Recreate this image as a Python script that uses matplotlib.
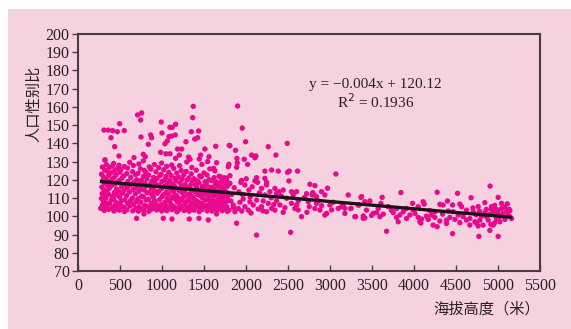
import numpy as np
import matplotlib.pyplot as plt
from matplotlib.patches import Rectangle

plt.rcParams['font.family'] = ['Liberation Serif', 'Noto Sans CJK SC', 'DejaVu Sans']

# regression shown on the chart
slope = -0.004
intercept = 120.12
r2 = 0.1936
fit_range = [280, 5150]

x_ticks = list(range(0, 5501, 500))
y_ticks = list(range(70, 201, 10))

# dense cloud, 280-1800 m
dense_pts = [
    (282, 104.5), (291, 106.2), (279, 109.8), (288, 112.4), (284, 116.0), (295, 119.5), (281, 123.1), (290, 127.0),
    (312, 103.2), (305, 108.1), (318, 111.0), (308, 114.6), (314, 118.2), (302, 121.7), (319, 125.4), (321, 130.9),
    (338, 105.0), (346, 107.3), (333, 110.2), (342, 113.5), (349, 117.0), (336, 120.6), (344, 124.8), (339, 128.3),
    (367, 103.8), (375, 106.9), (362, 112.1), (371, 115.3), (378, 119.0), (366, 122.5), (373, 126.9),
    (403, 104.6), (396, 108.8), (408, 110.9), (399, 116.8), (405, 120.3), (394, 123.9), (410, 127.6),
    (428, 102.9), (437, 105.9), (425, 109.4), (433, 113.0), (441, 117.7), (429, 121.1), (436, 125.0), (424, 129.0),
    (462, 104.1), (455, 107.5), (468, 111.6), (458, 114.9), (465, 118.5), (452, 122.7), (470, 126.2),
    (493, 103.4), (486, 106.4), (497, 110.5), (484, 113.9), (491, 119.6), (499, 124.2), (488, 128.0),
    (522, 105.4), (515, 108.3), (527, 112.7), (518, 116.3), (524, 120.9), (512, 125.7),
    (553, 102.6), (546, 104.9), (558, 109.0), (549, 114.2), (556, 117.6), (543, 122.1), (551, 127.3),
    (582, 103.6), (590, 107.0), (578, 111.3), (587, 115.6), (594, 119.2), (580, 123.4), (589, 126.5),
    (618, 105.7), (625, 108.6), (613, 113.3), (622, 117.3), (628, 121.4), (616, 129.6),
    (652, 103.0), (660, 106.6), (648, 110.0), (657, 114.8), (664, 118.8), (650, 124.5), (659, 127.9),
    (688, 104.3), (695, 108.0), (683, 112.4), (692, 116.1), (698, 120.0), (685, 122.9),
    (718, 102.8), (726, 105.2), (713, 109.6), (722, 113.7), (729, 117.9), (716, 123.6), (724, 128.7),
    (752, 104.0), (745, 107.8), (758, 111.1), (748, 115.0), (755, 119.8), (743, 126.1),
    (783, 103.3), (790, 106.0), (778, 110.7), (787, 114.4), (794, 118.0), (780, 121.9), (789, 125.2), (777, 130.4),
    (817, 105.5), (810, 108.9), (822, 112.9), (813, 116.6), (820, 120.5), (808, 124.0),
    (843, 102.7), (851, 104.7), (838, 109.3), (847, 113.1), (854, 117.4), (841, 122.6), (849, 127.1),
    (877, 103.9), (870, 107.2), (882, 111.8), (873, 115.4), (880, 119.3), (868, 125.9),
    (903, 105.1), (911, 108.4), (898, 110.4), (907, 114.1), (914, 118.6), (900, 121.3), (909, 128.4),
    (937, 103.5), (930, 106.8), (942, 112.6), (933, 116.9), (940, 120.7), (928, 124.4),
    (963, 104.8), (971, 109.1), (958, 113.6), (967, 117.1), (974, 122.3), (960, 126.7),
    (997, 102.9), (990, 106.3), (1002, 110.8), (993, 115.1), (1000, 119.1), (988, 123.0), (995, 129.2),
    (1023, 104.4), (1031, 107.6), (1018, 111.9), (1027, 116.4), (1034, 120.2), (1020, 125.5),
    (1057, 103.1), (1050, 105.8), (1062, 109.7), (1053, 113.4), (1060, 118.1), (1048, 121.8), (1055, 127.4),
    (1083, 104.9), (1091, 108.2), (1078, 112.2), (1087, 115.8), (1094, 119.7), (1080, 124.1),
    (1117, 103.7), (1110, 106.5), (1122, 110.3), (1113, 114.7), (1120, 117.8), (1108, 122.4), (1115, 128.1),
    (1143, 105.3), (1151, 109.5), (1138, 113.2), (1147, 116.7), (1154, 120.8), (1140, 126.3),
    (1177, 102.5), (1170, 104.2), (1182, 107.9), (1173, 111.4), (1180, 115.2), (1168, 119.4), (1175, 123.7),
    (1203, 103.6), (1211, 106.1), (1198, 109.9), (1207, 114.0), (1214, 118.3), (1200, 121.5), (1209, 127.8),
    (1237, 105.0), (1230, 108.7), (1242, 112.8), (1233, 116.2), (1240, 120.4), (1228, 125.1),
    (1263, 103.2), (1271, 106.7), (1258, 110.6), (1267, 113.8), (1274, 117.5), (1260, 122.8),
    (1297, 104.5), (1290, 108.0), (1302, 111.7), (1293, 115.5), (1300, 119.9), (1288, 124.6), (1295, 129.8),
    (1323, 102.8), (1331, 105.6), (1318, 109.2), (1327, 112.3), (1334, 116.8), (1320, 121.0),
    (1357, 104.0), (1350, 107.4), (1362, 110.8), (1353, 114.5), (1360, 118.7), (1348, 123.3), (1355, 126.8),
    (1383, 103.4), (1391, 106.2), (1378, 109.8), (1387, 113.6), (1394, 117.2), (1380, 120.6),
    (1417, 105.2), (1410, 108.5), (1422, 112.0), (1413, 115.9), (1420, 119.5), (1408, 125.3),
    (1443, 102.6), (1451, 104.6), (1438, 107.7), (1447, 111.5), (1454, 114.3), (1440, 118.4), (1449, 122.2),
    (1477, 103.8), (1470, 106.9), (1482, 110.1), (1473, 113.1), (1480, 116.5), (1468, 121.6), (1475, 128.5),
    (1503, 105.4), (1511, 108.8), (1498, 112.5), (1507, 115.7), (1514, 119.0), (1500, 123.8),
    (1537, 103.0), (1530, 105.9), (1542, 109.3), (1533, 111.9), (1540, 114.9), (1528, 117.9), (1535, 122.7),
    (1563, 104.3), (1571, 107.1), (1558, 110.5), (1567, 113.3), (1574, 116.0), (1560, 120.1), (1569, 126.0),
    (1597, 102.9), (1590, 106.4), (1602, 108.9), (1593, 112.7), (1600, 115.6), (1588, 119.6),
    (1623, 104.7), (1631, 107.5), (1618, 111.2), (1627, 114.2), (1634, 117.7), (1620, 121.2), (1629, 124.9),
    (1657, 103.5), (1650, 106.0), (1662, 109.0), (1653, 112.6), (1660, 116.4), (1648, 118.9),
    (1683, 105.0), (1691, 108.1), (1678, 110.7), (1687, 113.9), (1694, 117.0), (1680, 122.0),
    (1717, 103.1), (1710, 106.6), (1722, 109.6), (1713, 112.1), (1720, 115.3), (1708, 119.2),
    (1743, 104.6), (1751, 107.7), (1738, 111.3), (1747, 114.6), (1754, 117.6), (1740, 121.1),
    (1777, 102.7), (1770, 105.3), (1782, 108.6), (1773, 113.0), (1780, 116.6),
]

# scattered high values and low values
outlier_pts = [
    (309, 147.3), (361, 147.3), (413, 147.0), (468, 146.4), (551, 147.0), (393, 143.1),
    (496, 150.8), (437, 138.2), (488, 133.1), (710, 155.6), (758, 156.7), (746, 152.8),
    (991, 151.7), (750, 143.5), (865, 144.6), (877, 143.1), (837, 139.5), (1000, 145.7),
    (1095, 148.8), (1122, 148.8), (1162, 150.5), (1083, 143.7), (1115, 144.0), (1158, 144.6),
    (1063, 141.3), (1035, 139.8), (1372, 160.3), (1365, 154.1), (1349, 146.4), (1436, 146.8),
    (1390, 142.4), (1425, 143.1), (1285, 140.9), (1234, 136.9), (1186, 136.9), (984, 135.1),
    (1511, 136.9), (1639, 138.4), (1801, 138.9),
    (321, 130.9), (777, 134.0), (801, 132.7), (666, 132.2), (1095, 134.3), (1047, 134.3),
    (1162, 131.8), (1206, 133.6), (1333, 131.3), (1317, 132.5), (1460, 133.6), (1444, 131.4),
    (1559, 132.7), (1650, 129.4), (1789, 127.2), (1543, 130.0), (1615, 126.3), (1698, 121.6),
    (1765, 121.0),
    (698, 98.9), (1015, 98.9), (1119, 98.5), (1325, 98.5), (1440, 98.9), (1551, 98.0),
    (1650, 101.3), (785, 101.3), (270, 104.4), (300, 105.3),
]

# 1800-3400 m
mid_pts = [
    (1900, 160.5), (1955, 148.4), (1995, 140.9), (1809, 138.7), (1876, 136.2), (1797, 128.5),
    (1892, 131.8), (1896, 129.4), (1889, 126.9), (1979, 131.3), (2019, 128.5), (2067, 133.6),
    (2106, 132.1), (2118, 133.1), (2265, 138.2), (2356, 133.6), (2491, 140.0), (2225, 124.8),
    (2305, 125.4), (2384, 124.8), (2495, 124.1), (2515, 124.8), (2614, 124.8), (2511, 119.4),
    (2761, 117.6), (2820, 116.8), (2971, 115.4), (3070, 123.2), (1809, 122.3), (1769, 119.9),
    (2225, 120.8), (2245, 118.6), (2364, 112.6), (2126, 89.7), (2531, 91.2), (1888, 96.2),
    (1947, 119.7), (2003, 120.6), (2126, 121.2), (2106, 119.4),
    (1781, 110.8), (1820, 108.4), (1848, 106.2), (1797, 103.4), (1868, 102.5), (1908, 104.3),
    (1928, 107.7), (1967, 109.5), (1987, 105.3), (2027, 103.4), (2047, 108.0), (2086, 106.2),
    (2126, 108.9), (2146, 104.0), (2185, 105.3), (2205, 108.4), (2225, 111.7), (2245, 102.5),
    (2265, 107.1), (2304, 104.3), (2344, 103.4), (2364, 108.4), (2404, 106.2), (2443, 102.2),
    (2463, 104.7), (2483, 109.9), (2542, 107.1), (2562, 111.7), (2582, 104.3), (2622, 108.4),
    (2661, 99.8), (2693, 110.2), (2725, 102.2), (2753, 105.3), (2788, 111.7), (2820, 104.3),
    (2840, 107.1), (2880, 103.4), (2899, 113.5), (2939, 100.7), (2999, 106.2), (3038, 107.7),
    (3098, 104.3), (3137, 105.3), (3177, 101.6), (3217, 111.7), (3248, 104.3), (3296, 99.8),
    (3336, 106.2), (3376, 110.8), (3395, 98.9),
    (1809, 118.1), (1860, 115.7), (1939, 118.6), (1987, 117.2), (2035, 114.4), (2074, 116.2),
    (2138, 118.6), (2185, 115.3), (2245, 117.2), (2285, 113.5), (2344, 115.3), (2392, 113.5),
    (2443, 114.4), (2542, 113.5), (2602, 113.5), (2721, 112.4), (2795, 113.0), (2840, 110.8),
    (2939, 111.7), (2602, 106.2), (2621, 103.5), (2701, 109.9), (2741, 108.0), (2812, 111.7),
    (2860, 108.4), (2900, 105.8), (2960, 101.6), (3019, 103.5), (3157, 106.2), (3177, 104.4),
    (3249, 104.4), (3305, 99.8), (3344, 106.2),
    (1830, 112.0), (1915, 113.4), (1960, 111.9), (2050, 110.6), (2160, 112.8), (2300, 110.2),
    (2420, 111.1), (1850, 104.8), (1950, 102.9), (2060, 101.8), (2200, 103.0), (2330, 106.4),
]

# 3400-5200 m
high_alt_pts = [
    (4906, 116.6), (4276, 113.2), (3844, 113.0), (4518, 112.6), (3621, 110.4), (3368, 110.4),
    (4680, 110.2), (5002, 110.4), (3415, 108.0), (3475, 108.4), (3606, 107.1), (3983, 107.1),
    (4109, 108.0), (4121, 106.7), (4399, 108.4), (4308, 106.6), (4347, 106.2), (4459, 106.2),
    (4546, 106.7), (4566, 105.3), (4843, 107.5), (4764, 105.3), (4923, 105.3), (4962, 104.4),
    (5042, 107.1), (4990, 103.5), (5133, 103.8), (5101, 102.5),
    (3673, 91.8), (4459, 90.5), (4772, 89.0), (5002, 89.0), (4903, 92.3), (3812, 97.0),
    (4082, 96.3), (3415, 99.1), (4276, 94.3), (4228, 95.2), (4744, 96.2), (4823, 95.2),
    (4915, 95.6), (4962, 96.5),
    (3515, 101.6), (3495, 100.5), (3554, 102.0), (3634, 101.2), (3733, 103.1), (3753, 102.0),
    (3832, 100.7), (3872, 102.5), (3951, 100.7), (4011, 101.6), (4050, 99.4), (4090, 98.5),
    (4149, 100.1), (4169, 98.3), (4209, 100.7), (4249, 99.4), (4308, 97.4), (4340, 101.2),
    (4387, 97.9), (4427, 99.4), (4487, 98.3), (4526, 100.7), (4586, 99.8), (4625, 97.9),
    (4665, 98.8), (4725, 97.0), (4784, 97.9), (4804, 100.1), (4864, 99.8), (4883, 97.9),
    (4983, 98.8), (5022, 99.8), (5082, 98.3), (5133, 100.1), (5161, 98.8),
    (3435, 103.4), (3574, 104.3), (3693, 105.3), (3792, 104.3), (3911, 104.3), (3991, 103.4),
    (4050, 105.3), (4189, 103.1), (4249, 102.5), (4407, 102.9), (4467, 102.5), (4625, 103.4),
    (4705, 102.5), (4844, 102.0), (4943, 102.5), (5062, 101.6), (5141, 103.1), (5121, 100.7),
    (3396, 100.2), (3594, 99.8), (3792, 99.4), (3911, 98.8), (4070, 97.0), (4387, 96.1),
    (4546, 96.5), (4665, 95.2), (4764, 94.7), (4943, 95.2), (5022, 97.0),
    (4920, 104.0), (4960, 106.0), (5000, 102.0), (5040, 104.2), (4980, 100.6), (4900, 101.0),
    (4860, 103.8), (4780, 102.8), (4740, 100.8), (4700, 104.6), (5080, 105.0), (5110, 106.8),
]

pts = np.array(dense_pts + outlier_pts + mid_pts + high_alt_pts)

fig = plt.figure(figsize=(5.71, 3.29), dpi=100)
fig.patch.set_facecolor('white')
fig.patches.append(Rectangle((8 / 571, 0), 1, 1 - 9 / 329, transform=fig.transFigure,
                             facecolor='#f6d2e1', edgecolor='none', zorder=-10))
ax = fig.add_axes([78 / 571, 1 - 271 / 329, 462 / 571, 237 / 329])
ax.set_facecolor('none')

ax.scatter(pts[:, 0], pts[:, 1], s=15, color='#e8098c', edgecolors='none', zorder=2)

fx = np.array(fit_range)
ax.plot(fx, slope * fx + intercept, color='#1c1416', linewidth=2.4, zorder=3)

ax.text(3540, 172.5, 'y = \u22120.004x + 120.12', ha='center', va='center', fontsize=11, color='#2a2020')
ax.text(3540, 162.7, 'R$^2$ = %.4f' % r2, ha='center', va='center', fontsize=11, color='#2a2020')

ax.set_xlim(0, 5500)
ax.set_ylim(70, 200)
ax.set_xticks(x_ticks)
ax.set_yticks(y_ticks)
ax.tick_params(axis='x', direction='in', length=4, width=1, color='#4a3a42',
               labelsize=11.5, pad=5, labelcolor='#2a2020')
ax.tick_params(axis='y', direction='out', length=4, width=1, color='#4a3a42',
               labelsize=11.5, pad=2, labelcolor='#2a2020')
for s in ax.spines.values():
    s.set_color('#4a3a42')
    s.set_linewidth(1.5)

ax.set_ylabel('人口性别比', fontsize=11, family=['Noto Sans CJK SC', 'DejaVu Sans'],
              color='#2a2020')
ax.yaxis.set_label_coords(-0.078, 0.705)
ax.set_xlabel('海拔高度（米）', fontsize=11, family=['Noto Sans CJK SC', 'DejaVu Sans'],
              color='#2a2020', loc='right', labelpad=5)

fig.savefig('out.png', dpi=100)
